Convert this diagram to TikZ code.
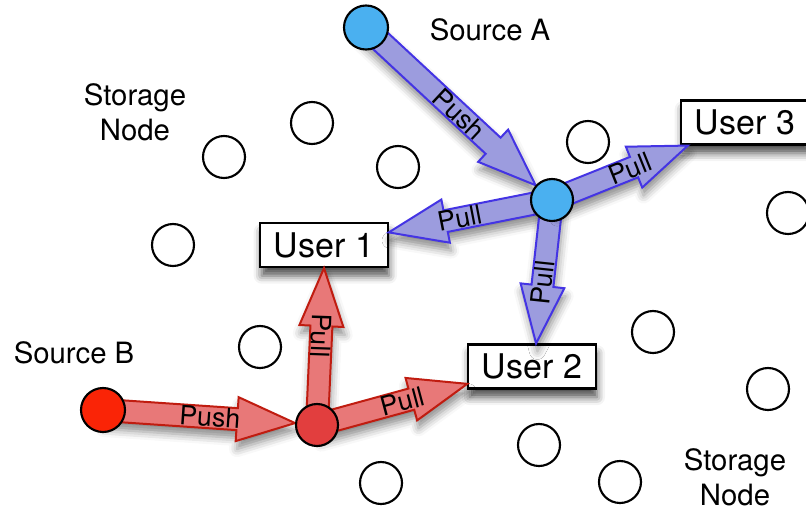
\documentclass[tikz,border=0pt]{standalone}
\usepackage{fontspec}
\setmainfont{TeX Gyre Heros}
\usetikzlibrary{calc,shadows.blur}
\pgfdeclarelayer{bg}
\pgfsetlayers{bg,main}
\definecolor{arrblue}{RGB}{156,156,222}
\definecolor{edgeblue}{RGB}{68,52,228}
\definecolor{arrred}{RGB}{232,120,120}
\definecolor{edgered}{RGB}{192,28,16}
\definecolor{srcblue}{RGB}{74,176,240}
\definecolor{srcred}{RGB}{250,36,6}
\definecolor{hubred}{RGB}{226,62,62}
\tikzset{
  storage/.style={circle, draw, line width=1.6pt, minimum size=31.5pt, inner sep=0pt, fill=white},
  bluedot/.style={storage, fill=srcblue},
  reddot/.style={storage, fill=hubred},
  userbox/.style={draw, line width=1.6pt, fill=white, minimum width=95.5pt, minimum height=33pt,
    inner sep=0pt, font=\fontsize{25.5}{30}\selectfont,
    blur shadow={shadow xshift=1pt, shadow yshift=-6.5pt, shadow blur radius=6pt, shadow opacity=70}},
  bluearrow/.style={fill=arrblue, draw=edgeblue, line width=1.5pt, line join=miter,
    blur shadow={shadow xshift=1pt, shadow yshift=-6pt, shadow blur radius=6pt, shadow opacity=45}},
  redarrow/.style={fill=arrred, draw=edgered, line width=1.5pt, line join=miter,
    blur shadow={shadow xshift=1pt, shadow yshift=-6pt, shadow blur radius=6pt, shadow opacity=45}},
  arrlabel/.style={font=\fontsize{20}{22}\selectfont, inner sep=0pt},
  lbl/.style={font=\fontsize{22}{26}\selectfont, align=center}
}
% #1 style, #2 start, #3 tip, #4 label position, #5 label rotation, #6 label
\newcommand\blockarrow[6]{%
  \path[#1] ($(#2)!8.25pt!90:(#3)$)
    -- ($(#3)!43.5pt!(#2)!8.25pt!90:(#3)$)
    -- ($(#3)!43.5pt!(#2)!16.5pt!90:(#3)$)
    -- (#3)
    -- ($(#3)!43.5pt!(#2)!16.5pt!-90:(#3)$)
    -- ($(#3)!43.5pt!(#2)!8.25pt!-90:(#3)$)
    -- ($(#2)!8.25pt!-90:(#3)$) -- cycle;
  \node[arrlabel, rotate=#5] at ($(#2)!#4!(#3)$) {#6};
}
\begin{document}
\begin{tikzpicture}[x=0.75pt, y=-0.75pt]
\useasboundingbox (0,0) rectangle (806,510);

% storage nodes
\node[storage] (s1) at (312,123) {};
\node[storage] (s2) at (224,157) {};
\node[storage] (s3) at (398,167) {};
\node[storage] (s4) at (173,245) {};
\node[storage] (s5) at (588,142) {};
\node[storage] (s6) at (788,213) {};
\node[storage] (s7) at (260,347) {};
\node[storage] (s8) at (653,332) {};
\node[storage] (s9) at (768,389) {};
\node[storage] (s10) at (539,445) {};
\node[storage] (s11) at (620,482) {};
\node[storage] (s12) at (381,483) {};

% sources and hubs
\node[bluedot, minimum size=33pt] (srcA) at (366,27.5) {};
\node[bluedot] (hubA) at (552,200) {};
\node[reddot, fill=srcred, minimum size=33pt] (srcB) at (103,410) {};
\node[reddot] (hubB) at (317,425) {};

% text labels
\node[lbl] (tA) at (490,30) {Source A};
\node[lbl] (tB) at (74,353) {Source B};
\node[lbl] (st1) at (135,112) {Storage\\Node};
\node[lbl] (st2) at (735,477) {Storage\\Node};

\begin{pgfonlayer}{bg}
\node[userbox] (u1) at (324,245) {User 1};
\node[userbox] (u2) at (532,366.5) {User 2};
\node[userbox] (u3) at (745,122.5) {User 3};

\blockarrow{bluearrow}{srcA}{hubA.138}{0.548}{-43}{Push}
\blockarrow{bluearrow}{hubA}{u1.11}{0.566}{11}{Pull}
\blockarrow{bluearrow}{hubA}{u2.80}{0.576}{84}{Pull}
\blockarrow{bluearrow}{hubA}{u3.202}{0.575}{22}{Pull}
\blockarrow{redarrow}{srcB}{hubB.175}{0.557}{-4}{Push}
\blockarrow{redarrow}{hubB}{u1.south}{0.57}{-92}{Pull}
\blockarrow{redarrow}{hubB}{u2.195}{0.57}{15}{Pull}
\end{pgfonlayer}
\end{tikzpicture}
\end{document}
